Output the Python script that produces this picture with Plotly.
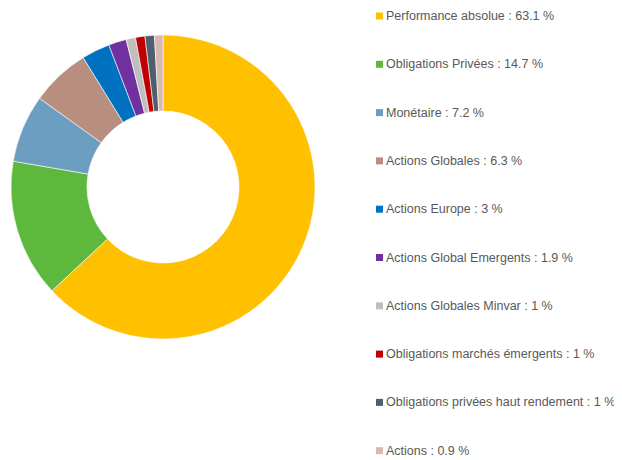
import plotly.graph_objects as go

labels = ["Performance absolue", "Obligations Privées", "Monétaire", "Actions Globales",
          "Actions Europe", "Actions Global Emergents", "Actions Globales Minvar",
          "Obligations marchés émergents", "Obligations privées haut rendement", "Actions"]
values = [63.1, 14.7, 7.2, 6.3, 3, 1.9, 1, 1, 1, 0.9]
value_text = ["63.1", "14.7", "7.2", "6.3", "3", "1.9", "1", "1", "1", "0.9"]
colors = ["#FFC000", "#5DB83D", "#6C9EC2", "#B88E7E", "#0070C0", "#7030A0",
          "#BFBFBF", "#C00000", "#4F5F6E", "#D9B8B0"]

W, H = 622, 460
OFF = 8  # page body margin offset
fig = go.Figure()
fig.add_trace(go.Pie(
    labels=labels, values=values, sort=False, direction="clockwise", rotation=0,
    hole=0.5, marker=dict(colors=colors, line=dict(color="white", width=0.6)),
    textinfo="none", showlegend=False,
    domain=dict(x=[(11 - OFF) / W, (315 - OFF) / W],
                y=[(H - (339 - OFF)) / H, (H - (35 - OFF)) / H]),
))

shapes = []
annotations = []
y0, step = 16 - OFF, 48.3
for i, (lab, vt, c) in enumerate(zip(labels, value_text, colors)):
    yc = y0 + i * step
    shapes.append(dict(type="rect", xref="paper", yref="paper",
                       x0=(376 - OFF) / W, x1=(383 - OFF) / W,
                       y0=1 - (yc + 3.5) / H, y1=1 - (yc - 3.5) / H,
                       fillcolor=c, line=dict(width=0)))
    annotations.append(dict(xref="paper", yref="paper", x=(384 - OFF) / W, y=1 - yc / H,
                            xanchor="left", yanchor="middle", showarrow=False,
                            text=f"{lab} : {vt} %",
                            font=dict(family="Liberation Sans, Arial", size=12.5, color="#595959")))

fig.update_layout(width=W, height=H, margin=dict(l=0, r=0, t=0, b=0),
                  paper_bgcolor="white", plot_bgcolor="white",
                  shapes=shapes, annotations=annotations)
fig.write_html("out.html")
